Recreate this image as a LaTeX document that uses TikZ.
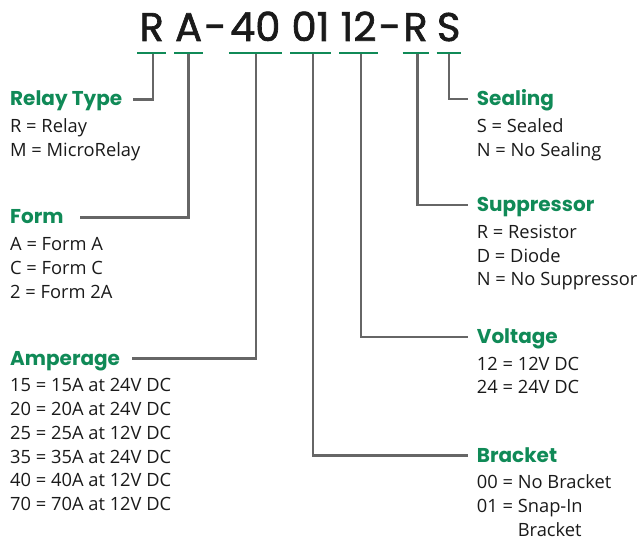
\documentclass[tikz,border=0pt]{standalone}
\usepackage{fontspec}
\setmainfont{Open Sans}
\newfontfamily\popfont{Poppins}
\newfontfamily\codefont{Poppins}[FakeBold=1.6]
\usetikzlibrary{calc}
\definecolor{keyg}{HTML}{108A57}
\definecolor{leadc}{HTML}{666666}
\definecolor{txtc}{HTML}{1A1A1A}
\tikzset{
  lead/.style={line width=2.4pt,leadc},
  uline/.style={line width=2pt,keyg},
  code/.style={font=\codefont\fontsize{40}{44}\selectfont,txtc,anchor=base,inner sep=0pt},
  head/.style={font=\popfont\bfseries\fontsize{20}{23}\selectfont,keyg,anchor=base west,inner sep=0pt},
  item/.style={font=\fontsize{18.3}{21}\selectfont,txtc,anchor=base west,inner sep=0pt}
}
\newcommand{\codekey}[5]{%
  \node[head] (#1) at (#2,#3) {#4};
  \foreach \itm [count=\i] in {#5}{%
    \node[item] (#1\i) at (#2,{#3+26.6+(\i-1)*23.8}) {\itm};}
}

\begin{document}
\begin{tikzpicture}[x=1pt,y=-1pt]
\useasboundingbox (0,0) rectangle (639,537);
% part number with underlines
\foreach \txt/\cx/\tx/\w [count=\i] in {R/151.7/152.7/29,A/188.6/188.3/29,40/255.3/255.7/53,01/310.5/312.7/41,12/358.5/360.7/39,R/415.5/417.3/26,S/448.7/449/24}{%
  \node[code] (c\i) at (\cx,41) {\txt};
  \draw[uline] (\cx-\w/2,53.3) -- (\cx+\w/2,53.3);
  \coordinate (t\i) at (\tx,54.3);
}
\node[code] (dash1) at (215.5,41) {-};
\node[code] (dash2) at (390,41) {-};

% left side
\codekey{relay}{10}{106}{Relay Type}{R = Relay,M = MicroRelay}
\codekey{form}{10}{224}{Form}{A = Form A,C = Form C,2 = Form 2A}
\codekey{amp}{10}{365}{Amperage}{15 = 15A at 24V DC,20 = 20A at 24V DC,25 = 25A at 12V DC,35 = 35A at 24V DC,40 = 40A at 12V DC,70 = 70A at 12V DC}

% right side
\codekey{seal}{476.7}{105.7}{Sealing}{S = Sealed,N = No Sealing}
\codekey{supp}{476.7}{211.7}{Suppressor}{R = Resistor,D = Diode,N = No Suppressor}
\codekey{volt}{476.7}{343.5}{Voltage}{12 = 12V DC,24 = 24V DC}
\codekey{brk}{476.7}{462}{Bracket}{00 = No Bracket,01 = Snap-In,\phantom{01 = }Bracket}

% leaders
\draw[lead] (t1) |- ([xshift=11pt,yshift=6.5pt]relay.base east);
\draw[lead] (t2) |- ([xshift=16pt,yshift=6.5pt]form.base east);
\draw[lead] (t3) |- ([xshift=12pt,yshift=6.5pt]amp.base east);
\draw[lead] (t4) |- ([xshift=-8.5pt,yshift=6.5pt]brk.base west);
\draw[lead] (t5) |- ([xshift=-8.5pt,yshift=6.5pt]volt.base west);
\draw[lead] (t6) |- ([xshift=-8.5pt,yshift=6.5pt]supp.base west);
\draw[lead] (t7) |- ([xshift=-8.5pt,yshift=6.5pt]seal.base west);
\end{tikzpicture}
\end{document}
